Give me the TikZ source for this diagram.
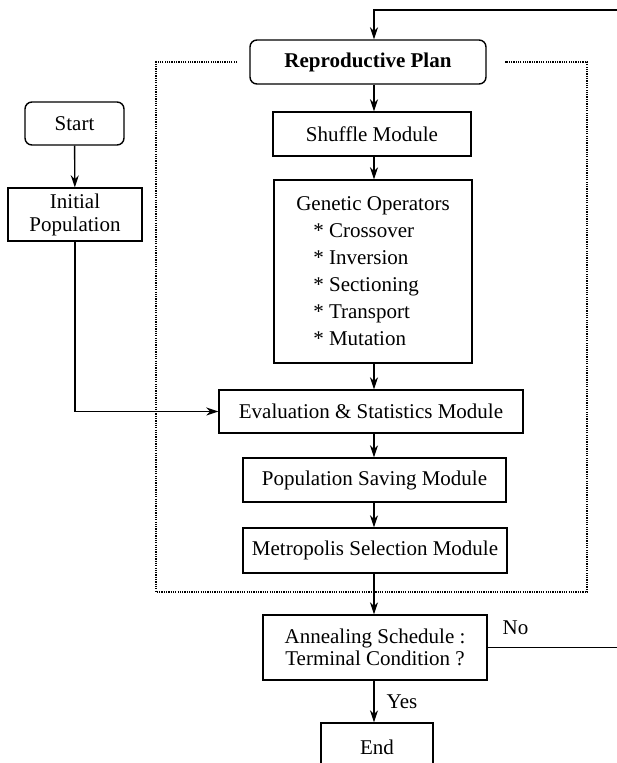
\documentclass[tikz,border=0pt]{standalone}
\usepackage{fontspec}
\setmainfont{Liberation Serif}
\usetikzlibrary{arrows.meta}
\begin{document}
\begin{tikzpicture}[x=1pt,y=-1pt,
  box/.style={draw, line width=1.4pt, inner sep=0pt, font=\fontsize{21}{23}\selectfont, align=center},
  rbox/.style={box, rounded corners=7pt},
  arr/.style={line width=1.4pt, -{Stealth[length=12pt,width=8pt]}},
  plain/.style={line width=1.4pt},
  frame/.style={line width=1.4pt, dash pattern=on 1.2pt off 1.1pt},
  lbl/.style={font=\fontsize{21}{23}\selectfont, inner sep=0pt}]
\useasboundingbox (0,0) rectangle (617,763);
\clip (0,0) rectangle (617,763);
\fill[white] (0,0) rectangle (617,763);

\coordinate (spine) at (374,0);
\coordinate (topR) at (617,10);
\coordinate (noR) at (617,647.5);

% left column
\node[rbox, minimum width=99pt, minimum height=43pt] (start) at (74.5,123.5) {Start};
\node[box, minimum width=134pt, minimum height=53pt] (init) at (75,214.5) {Initial\\Population};

% main column
\node[rbox, minimum width=236pt, minimum height=44pt, font=\fontsize{21}{23}\selectfont\bfseries] (rp) at (368,62) {Reproductive Plan};
\node[box, minimum width=198pt, minimum height=44pt] (shuffle) at (372,134) {Shuffle Module};
\node[box, minimum width=198pt, minimum height=183pt, align=left, font=\fontsize{21}{27}\selectfont] (gen) at (373,271.5)
  {Genetic Operators\\\hspace*{17pt}* Crossover\\\hspace*{17pt}* Inversion\\\hspace*{17pt}* Sectioning\\\hspace*{17pt}* Transport\\\hspace*{17pt}* Mutation\hspace*{8pt}};
\node[box, minimum width=304pt, minimum height=43pt] (eval) at (371,411.5) {Evaluation \& Statistics Module};
\node[box, minimum width=263pt, minimum height=44pt] (pop) at (374.5,480) {Population Saving Module};
\node[box, minimum width=264pt, minimum height=45pt] (metro) at (375,550.5) {Metropolis Selection Module};
\node[box, minimum width=224pt, minimum height=65pt, font=\fontsize{21}{22}\selectfont] (anneal) at (375,647.5) {Annealing Schedule :\\Terminal Condition ?};
\node[box, minimum width=112pt, minimum height=48pt] (end) at (377,747) {End};

% labels
\node[lbl] (no) at (515.5,628) {No};
\node[lbl] (yes) at (402,702) {Yes};

% dotted frame of the reproductive plan
\draw[frame] (237,62) -- (156,62) -- (156,592) -- (587,592) -- (587,62) -- (505,62);

% connectors
\draw[arr] (topR) -| (rp.north -| spine);
\draw[arr] (rp.south -| spine) -- (shuffle.north -| spine);
\draw[arr] (shuffle.south -| spine) -- (gen.north -| spine);
\draw[arr] (gen.south -| spine) -- (eval.north -| spine);
\draw[arr] (eval.south -| spine) -- (pop.north -| spine);
\draw[arr] (pop.south -| spine) -- (metro.north -| spine);
\draw[arr] (metro.south -| spine) -- (anneal.north -| spine);
\draw[arr] (anneal.south -| spine) -- (end.north -| spine);
\draw[arr] (start) -- (init);
\draw[arr] (init.south) |- (eval.west);
\draw[plain] (anneal.east) -- (noR);
\end{tikzpicture}
\end{document}
